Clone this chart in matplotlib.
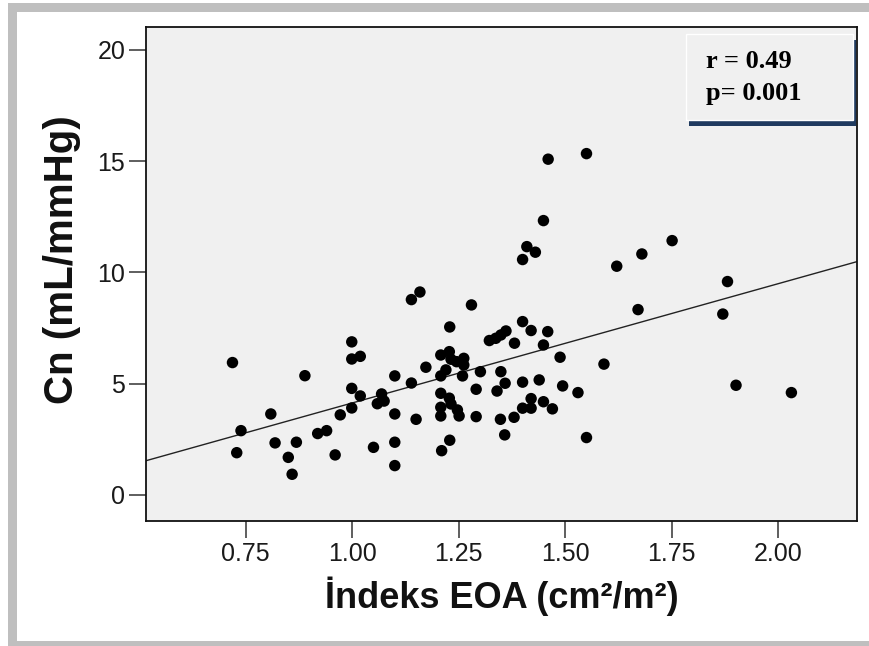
import numpy as np
import matplotlib.pyplot as plt
from matplotlib.patches import Rectangle

# Indexed EOA (cm2/m2) against compliance Cn (mL/mmHg), one dot per patient
eoa_index = [
    0.719, 0.729, 0.739, 0.809, 0.819, 0.850, 0.859, 0.869, 0.889, 0.919,
    0.940, 0.960, 0.972, 0.999, 0.999, 1.019, 0.999, 1.019, 0.999, 1.050,
    1.059, 1.069, 1.075,
    1.159, 1.139, 1.280, 1.229, 1.100, 1.139, 1.173, 1.100, 1.150, 1.100,
    1.100, 1.210, 1.229,
    1.208, 1.228, 1.232, 1.245, 1.262, 1.262, 1.220, 1.208, 1.259, 1.301,
    1.349, 1.291, 1.340, 1.208, 1.228, 1.232, 1.208, 1.208, 1.247, 1.251,
    1.291, 1.348,
    1.400, 1.420, 1.459, 1.322, 1.337, 1.349, 1.361, 1.381, 1.449, 1.488,
    1.359, 1.400, 1.439, 1.494, 1.420, 1.449, 1.400, 1.420, 1.470, 1.380,
    1.358,
    1.530, 1.550, 1.591, 1.460, 1.550, 1.449, 1.410, 1.430, 1.400, 1.621,
    1.680, 1.751, 1.671, 1.881, 1.870, 1.901, 2.031,
]
cn = [
    5.95, 1.90, 2.89, 3.64, 2.34, 1.69, 0.93, 2.37, 5.36, 2.76,
    2.89, 1.80, 3.60, 6.88, 6.11, 6.23, 4.79, 4.45, 3.91, 2.14,
    4.10, 4.54, 4.22,
    9.12, 8.78, 8.54, 7.55, 5.35, 5.03, 5.74, 3.64, 3.40, 2.37,
    1.32, 1.99, 2.46,
    6.29, 6.44, 6.10, 5.99, 6.14, 5.84, 5.62, 5.35, 5.35, 5.54,
    5.54, 4.75, 4.67, 4.57, 4.35, 4.09, 3.94, 3.55, 3.82, 3.55,
    3.52, 3.40,
    7.79, 7.39, 7.34, 6.94, 7.04, 7.19, 7.37, 6.82, 6.74, 6.19,
    5.02, 5.07, 5.17, 4.90, 4.33, 4.19, 3.90, 3.90, 3.87, 3.49,
    2.70,
    4.60, 2.58, 5.88, 15.09, 15.34, 12.33, 11.16, 10.91, 10.58, 10.28,
    10.83, 11.43, 8.33, 9.59, 8.13, 4.93, 4.60,
]
x_ticks = [0.75, 1.00, 1.25, 1.50, 1.75, 2.00]
y_ticks = [0, 5, 10, 15, 20]
r_value = 0.49
p_value = 0.001

x = np.array(eoa_index)
y = np.array(cn)
slope, intercept = np.polyfit(x, y, 1)

fig = plt.figure(figsize=(8.7, 6.46), dpi=100)
W, H = 870.0, 646.0

def px_rect(x0, y0, x1, y1, **kw):
    # rectangle given in pixel coords measured from the top-left corner
    return Rectangle((x0 / W, 1 - y1 / H), (x1 - x0) / W, (y1 - y0) / H,
                     transform=fig.transFigure, **kw)

# grey frame around the panel
band = '#bfbfbf'
fig.patches.append(px_rect(8, 3, 17, 646, facecolor=band, edgecolor='none'))
fig.patches.append(px_rect(8, 3, 870, 12, facecolor=band, edgecolor='none'))
fig.patches.append(px_rect(8, 641, 870, 646, facecolor=band, edgecolor='none'))

ax = fig.add_axes([146 / W, 1 - 521 / H, (857 - 146) / W, (521 - 27) / H])
ax.set_facecolor('#f0f0f0')
ax.set_xlim(0.516, 2.185)
ax.set_ylim(-1.17, 21.03)

ax.scatter(x, y, s=68, color='black', edgecolors='none', zorder=3)
xs = np.array(ax.get_xlim())
ax.plot(xs, intercept + slope * xs, color='#222222', linewidth=1.0, zorder=2)

ax.set_xticks(x_ticks)
ax.set_xticklabels(['%.2f' % t for t in x_ticks])
ax.set_yticks(y_ticks)
for s in ax.spines.values():
    s.set_linewidth(1.3)
    s.set_color('#111111')
ax.tick_params(direction='out', length=12, width=1.1, color='#333333',
               labelsize=18, labelcolor='#1a1a1a', pad=3)

ax.set_xlabel('İndeks EOA (cm²/m²)', fontsize=26, fontweight='bold',
              family='Liberation Sans', labelpad=8, color='#111111')
ax.set_ylabel('Cn (mL/mmHg)', fontsize=29, fontweight='bold',
              family='Liberation Sans', color='#111111')
ax.yaxis.set_label_coords(-0.092, 0.53)
for lab in ax.get_xticklabels() + ax.get_yticklabels():
    lab.set_family('Liberation Sans')

# statistics box with a navy drop shadow
fig.patches.append(px_rect(689, 40, 856, 126, facecolor='#1f3a5f',
                           edgecolor='none', zorder=5))
fig.patches.append(px_rect(686, 34, 853, 120, facecolor='#f0f0f0',
                           edgecolor='white', linewidth=1.0, zorder=6))
fig.text(706 / W, 1 - 68 / H, 'r = %.2f' % r_value, fontsize=19,
         fontweight='bold', family='Liberation Serif', zorder=7)
fig.text(706 / W, 1 - 100 / H, 'p= %.3f' % p_value, fontsize=19,
         fontweight='bold', family='Liberation Serif', zorder=7)

plt.savefig('out.png', dpi=100)
